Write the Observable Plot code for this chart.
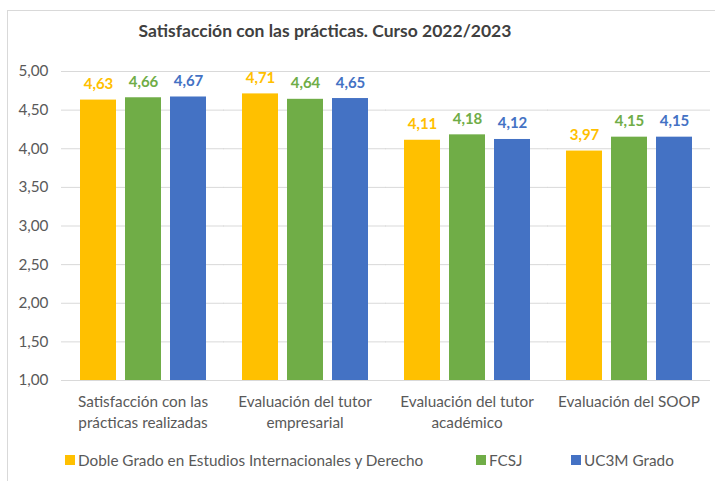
<!DOCTYPE html>
<html>
<head>
<meta charset="utf-8">
<script src="https://cdn.jsdelivr.net/npm/d3@7"></script>
<script src="https://cdn.jsdelivr.net/npm/@observablehq/plot@0.6"></script>
<style>
  html, body { margin: 0; padding: 0; background: #fff; }
  body { width: 715px; height: 481px; position: relative; overflow: hidden; font-family: Lato, "Open Sans", sans-serif; }
  #frame { position: absolute; left: 7px; top: 10px; width: 720px; height: 480px; border-left: 1px solid #d9d9d9; border-top: 1px solid #d9d9d9; }
  #title { position: absolute; left: 0; top: 20px; width: 650px; text-align: center; font-size: 17.5px; font-weight: bold; color: #404040; }
  #chart { position: absolute; left: 0; top: 55px; }
  .leg { position: absolute; top: 451px; font-size: 15.3px; color: #595959; white-space: nowrap; display: flex; align-items: center; }
  .sw { width: 10px; height: 10px; display: inline-block; margin-right: 3px; }
</style>
</head>
<body>
<div id="frame"></div>
<div id="title">Satisfacción con las prácticas. Curso 2022/2023</div>
<div id="chart"></div>
<div id="legend"></div>
<script>
const categories = [
  "Satisfacción con las\nprácticas realizadas",
  "Evaluación del tutor\nempresarial",
  "Evaluación del tutor\nacadémico",
  "Evaluación del SOOP"
];
const series = ["Doble Grado en Estudios Internacionales y Derecho", "FCSJ", "UC3M Grado"];
const colors = ["#FFC000", "#70AD47", "#4472C4"];
const dobleGrado = [4.63, 4.71, 4.11, 3.97];
const fcsj = [4.66, 4.64, 4.18, 4.15];
const uc3m = [4.67, 4.65, 4.12, 4.15];
const yTicks = [1, 1.5, 2, 2.5, 3, 3.5, 4, 4.5, 5];

const seriesValues = [dobleGrado, fcsj, uc3m];
const data = [];
categories.forEach((c, i) => {
  series.forEach((s, j) => data.push({cat: c, serie: s, value: seriesValues[j][i]}));
});
const fmt = d => d.toFixed(2).replace(".", ",");

const chart = Plot.plot({
  width: 715,
  height: 380,
  marginLeft: 60,
  marginRight: 5,
  marginTop: 16,
  marginBottom: 55,
  style: {fontFamily: "Lato, 'Open Sans', sans-serif", fontSize: "15.3px", color: "#595959", background: "transparent"},
  fx: {domain: categories, paddingInner: 0.218, paddingOuter: 0.109, label: null},
  x: {domain: series, paddingInner: 0.21, paddingOuter: 0, axis: null},
  y: {domain: [1, 5], label: null},
  color: {domain: series, range: colors},
  marks: [
    Plot.ruleY(yTicks, {stroke: "#d9d9d9", strokeWidth: 1, insetLeft: -18, insetRight: -18}),
    Plot.axisY({ticks: yTicks, tickFormat: fmt, tickSize: 0, tickPadding: 31, label: null, fill: "#595959"}),
    Plot.axisFx({anchor: "bottom", tickSize: 0, tickPadding: 11, lineHeight: 1.38, label: null, fill: "#595959"}),
    Plot.barY(data, {fx: "cat", x: "serie", y1: 1, y2: "value", fill: "serie"}),
    Plot.text(data, {fx: "cat", x: "serie", y: "value", text: d => fmt(d.value), fill: "serie", dy: -11, fontWeight: "bold", fontSize: 15, lineAnchor: "bottom"})
  ]
});
document.getElementById("chart").appendChild(chart);

const legendLefts = [65, 476, 571];
const legend = document.getElementById("legend");
series.forEach((s, i) => {
  const item = document.createElement("div");
  item.className = "leg";
  item.style.left = legendLefts[i] + "px";
  const sw = document.createElement("span");
  sw.className = "sw";
  sw.style.background = colors[i];
  item.appendChild(sw);
  item.appendChild(document.createTextNode(s));
  legend.appendChild(item);
});
</script>
</body>
</html>
